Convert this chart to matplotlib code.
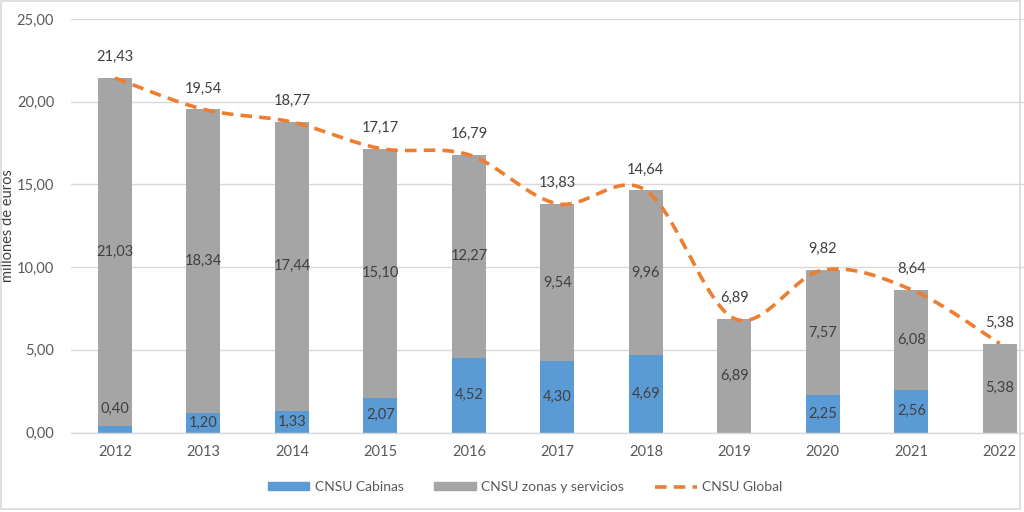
import numpy as np
import matplotlib
matplotlib.use("Agg")
import matplotlib.pyplot as plt
from matplotlib.patches import Rectangle
from matplotlib.lines import Line2D
from matplotlib.patches import Patch

plt.rcParams['font.family'] = ['Lato', 'DejaVu Sans']

years = ["2012", "2013", "2014", "2015", "2016", "2017", "2018", "2019", "2020", "2021", "2022"]
cabinas = [0.40, 1.20, 1.33, 2.07, 4.52, 4.30, 4.69, 0.00, 2.25, 2.56, 0.00]
zonas = [21.03, 18.34, 17.44, 15.10, 12.27, 9.54, 9.96, 6.89, 7.57, 6.08, 5.38]
global_ = [21.43, 19.54, 18.77, 17.17, 16.79, 13.83, 14.64, 6.89, 9.82, 8.64, 5.38]

BLUE = "#5B9BD5"
GRAY = "#A5A5A5"
ORANGE = "#ED7D31"
TXT = "#404040"
TICK = "#595959"
GRID = "#D9D9D9"

def fmt(v):
    return f"{v:.2f}".replace(".", ",")

W, H = 1024, 512
fig = plt.figure(figsize=(W / 100, H / 100), dpi=100)
# plot area: x from 70.75 to 1044 px, y from 19 (25) to 432.5 (0)
left, right = 70.75, 1044.0
top, bottom = 19.0, 432.5
ax = fig.add_axes([left / W, 1 - bottom / H, (right - left) / W, (bottom - top) / H])
ax.set_xlim(-0.5, len(years) - 0.5)
ax.set_ylim(0, 25)

x = np.arange(len(years))
bw = 0.385
ax.bar(x, cabinas, bw, color=BLUE, zorder=2)
ax.bar(x, zonas, bw, bottom=cabinas, color=GRAY, zorder=2)

# smooth line (Excel-like cardinal spline through the points, in pixel-proportional space)
sx = (right - left) / len(years)
sy = (bottom - top) / 25.0
px = x * sx
py = np.array(global_) * sy
cx, cy = [], []
n = len(px)
for i in range(n - 1):
    p0 = (px[max(i - 1, 0)], py[max(i - 1, 0)])
    p1 = (px[i], py[i])
    p2 = (px[i + 1], py[i + 1])
    p3 = (px[min(i + 2, n - 1)], py[min(i + 2, n - 1)])
    c1 = (p1[0] + (p2[0] - p0[0]) / 6, p1[1] + (p2[1] - p0[1]) / 6)
    c2 = (p2[0] - (p3[0] - p1[0]) / 6, p2[1] - (p3[1] - p1[1]) / 6)
    t = np.linspace(0, 1, 40)
    bx = (1 - t) ** 3 * p1[0] + 3 * (1 - t) ** 2 * t * c1[0] + 3 * (1 - t) * t ** 2 * c2[0] + t ** 3 * p2[0]
    by = (1 - t) ** 3 * p1[1] + 3 * (1 - t) ** 2 * t * c1[1] + 3 * (1 - t) * t ** 2 * c2[1] + t ** 3 * p2[1]
    cx.extend(bx[:-1] if i < n - 2 else bx)
    cy.extend(by[:-1] if i < n - 2 else by)
ax.plot(np.array(cx) / sx, np.array(cy) / sy, color=ORANGE, lw=2.6,
        linestyle=(0, (3.2, 2.0)), zorder=3, solid_capstyle='butt')

# labels
for i in range(n):
    if cabinas[i] > 0:
        if cabinas[i] < 1.0:
            ax.annotate(fmt(cabinas[i]), (x[i], cabinas[i]), xytext=(0, 12), textcoords='offset points',
                        ha='center', va='center', fontsize=10.5, color=TXT, zorder=4)
        else:
            ax.text(x[i], cabinas[i] / 2, fmt(cabinas[i]), ha='center', va='center',
                    fontsize=10.5, color=TXT, zorder=4)
    ax.text(x[i], cabinas[i] + zonas[i] / 2, fmt(zonas[i]), ha='center', va='center',
            fontsize=10.5, color=TXT, zorder=4)
    ax.annotate(fmt(global_[i]), (x[i], global_[i]), xytext=(0, 15), textcoords='offset points',
                ha='center', va='center', fontsize=10.5, color=TXT, zorder=4)

yt = [0, 5, 10, 15, 20, 25]
ax.set_yticks(yt)
ax.set_yticklabels([fmt(v) for v in yt])
ax.set_xticks(x)
ax.set_xticklabels(years)
ax.tick_params(axis='both', length=0, labelsize=10.5, labelcolor=TICK)
ax.tick_params(axis='y', pad=12)
ax.tick_params(axis='x', pad=9)
ax.grid(axis='y', color=GRID, lw=1, zorder=0)
ax.set_axisbelow(True)
for s in ['top', 'right', 'left']:
    ax.spines[s].set_visible(False)
ax.spines['bottom'].set_color(GRID)
ax.spines['bottom'].set_linewidth(1)
ax.set_ylabel("millones de euros", fontsize=10.5, color=TXT)
ax.yaxis.set_label_coords(-56 / (right - left), 0.5)

handles = [Patch(color=BLUE), Patch(color=GRAY),
           Line2D([0], [0], color=ORANGE, lw=2.6, linestyle=(0, (3.2, 2.0)))]
labels = ["CNSU Cabinas", "CNSU zonas y servicios", "CNSU Global"]
fig.legend(handles, labels, loc='center', bbox_to_anchor=(525 / W, 1 - 487 / H), ncol=3,
           frameon=False, fontsize=10, labelcolor=TICK, handlelength=3.0, handleheight=0.5,
           columnspacing=2.2, handletextpad=0.4)

fig.patches.append(Rectangle((1 / W, 3 / H), 1019 / W, 508 / H, transform=fig.transFigure,
                             fill=False, edgecolor=GRID, lw=1.2, zorder=10))

fig.savefig("out.png", dpi=100)
